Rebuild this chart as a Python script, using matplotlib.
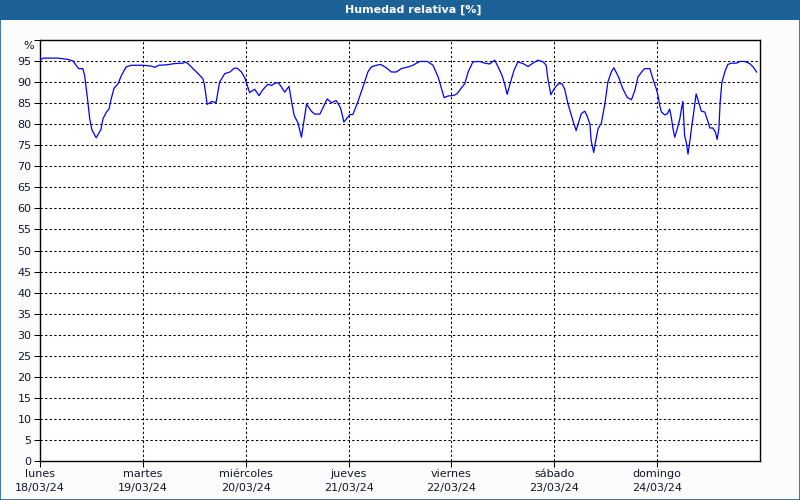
import matplotlib
matplotlib.use("Agg")
import matplotlib.pyplot as plt
from matplotlib.patches import Rectangle

# hours since lunes 18/03/24 00:00 and relative humidity (%)
hours = [0.0, 0.7, 4.2, 6.5, 7.7, 9.0, 10.0, 10.4, 11.0, 11.6, 12.1, 13.1, 14.2, 14.7,
         15.5, 16.1, 16.6, 17.3, 18.2, 19.0, 20.1, 21.3, 24.0, 26.0, 26.8, 27.7, 29.5,
         31.4, 33.4, 33.9, 34.5, 35.7, 36.9, 38.0, 38.4, 39.0, 39.6, 40.1, 40.8, 41.1,
         41.9, 43.1, 44.3, 45.3, 46.0, 47.0, 47.8, 48.9, 50.1, 51.1, 52.0, 53.2, 54.0,
         54.9, 55.7, 57.1, 58.1, 58.8, 59.3, 60.2, 61.0, 61.8, 62.2, 63.3, 64.1, 65.3,
         67.0, 68.0, 69.1, 69.9, 70.2, 70.9, 72.3, 73.0, 74.2, 75.6, 76.5, 77.3, 78.5,
         79.5, 80.8, 82.0, 83.1, 84.3, 85.9, 87.0, 88.6, 90.4, 91.7, 92.9, 93.7, 94.3,
         95.2, 96.4, 97.3, 98.3, 99.1, 99.9, 101.0, 102.6, 103.8, 104.9, 106.1, 106.9,
         107.8, 108.4, 109.0, 109.8, 110.6, 111.5, 112.7, 113.9, 115.0, 116.2, 117.4,
         118.1, 118.5, 119.2, 119.9, 120.9, 121.8, 122.4, 123.2, 124.0, 124.5, 125.1,
         125.7, 126.3, 127.1, 127.6, 128.3, 128.6, 129.2, 129.6, 130.2, 131.0, 131.8,
         132.5, 133.3, 133.9, 135.0, 136.0, 137.0, 138.0, 138.8, 139.5, 140.7, 141.1,
         142.3, 143.0, 143.8, 144.2, 144.6, 145.0, 145.8, 146.4, 146.9, 147.3, 147.7,
         148.1, 148.7, 149.3, 149.6, 150.0, 150.4, 150.8, 151.2, 151.6, 152.1, 152.6,
         153.1, 153.7, 154.3, 155.1, 155.9, 156.3, 157.0, 157.6, 158.0, 158.4, 158.7,
         159.1, 159.9, 160.5, 161.3, 162.5, 163.3, 164.4, 165.6, 166.4, 167.2]
humidity = [95.2, 95.7, 95.7, 95.4, 95.0, 93.2, 93.2, 91.6, 86.8, 81.3, 78.7, 76.8, 78.7, 81.3,
            82.9, 83.6, 86.0, 88.6, 89.6, 91.6, 93.6, 94.0, 94.0, 93.8, 93.5, 94.0, 94.1,
            94.4, 94.5, 94.8, 94.4, 93.2, 92.0, 90.8, 89.2, 84.7, 85.1, 85.4, 85.2, 85.2,
            90.0, 92.0, 92.4, 93.3, 93.3, 92.4, 91.0, 87.5, 88.3, 86.8, 88.2, 89.5, 89.2,
            89.8, 89.8, 87.6, 89.0, 84.8, 82.1, 80.3, 76.9, 82.1, 84.8, 83.1, 82.4, 82.4,
            86.0, 85.1, 85.6, 84.3, 83.6, 80.5, 82.3, 82.3, 85.4, 89.6, 92.4, 93.6, 94.0,
            94.2, 93.4, 92.4, 92.4, 93.2, 93.6, 94.0, 94.9, 94.9, 94.0, 91.2, 88.4, 86.3,
            86.7, 86.8, 87.2, 88.6, 89.6, 92.4, 94.8, 94.9, 94.5, 94.3, 95.2, 93.6,
            91.6, 89.6, 87.1, 90.0, 92.8, 94.8, 94.4, 93.7, 94.5, 95.2, 94.8,
            94.0, 90.8, 87.0, 88.3, 89.6, 89.6, 88.4, 84.8, 82.1, 80.3, 78.5,
            80.5, 82.5, 83.1, 82.1, 80.1, 76.1, 73.3, 75.7, 78.9, 80.3, 84.8,
            90.0, 92.4, 93.4, 91.2, 88.4, 86.4, 85.8, 88.0, 91.2, 92.8, 93.2,
            93.2, 90.8, 88.4, 86.8, 84.4, 82.9, 82.2, 82.5, 83.6, 81.7, 78.9,
            76.9, 78.9, 81.3, 83.3, 85.4, 77.3, 75.7, 72.9, 75.7, 79.7, 83.3,
            87.2, 85.2, 83.1, 82.9, 80.5, 79.1, 79.1, 78.1, 76.4, 78.9, 85.2,
            89.9, 92.8, 94.2, 94.5, 94.5, 94.9, 94.9, 94.4, 93.6, 92.4]

day_names = ["lunes", "martes", "miércoles", "jueves", "viernes", "sábado", "domingo"]
day_dates = ["18/03/24", "19/03/24", "20/03/24", "21/03/24", "22/03/24", "23/03/24", "24/03/24"]
y_ticks = list(range(0, 101, 5))
y_labels = [str(v) for v in y_ticks[:-1]] + [""]

bg = "#FBFCFB"
bar = "#1D6296"
txt = "#15152E"

fig = plt.figure(figsize=(8, 5), dpi=100, facecolor=bg)
ax = fig.add_axes([40 / 800, 1 - 461 / 500, 720 / 800, 421 / 500])
ax.set_facecolor("white")

# title bar and frame
fig.patches.append(Rectangle((0, 1 - 20 / 500), 1, 20 / 500, transform=fig.transFigure,
                             facecolor=bar, edgecolor="none", zorder=0))
fig.patches.append(Rectangle((0.0006, 0.001), 0.9988, 0.998, transform=fig.transFigure,
                             facecolor="none", edgecolor=bar, linewidth=1.2, zorder=1))
fig.text(413 / 800, 1 - 10 / 500, "Humedad relativa [%]", color="white", fontsize=8,
         fontweight="bold", ha="center", va="center")

ax.plot(hours, humidity, color="#0000FF", linewidth=0.9, zorder=3)

ax.set_xlim(0, 168)
ax.set_ylim(0, 100)
ax.set_yticks(y_ticks)
ax.set_yticklabels(y_labels)
ax.set_xticks([24 * i for i in range(7)])
ax.set_xticklabels([f"{n}\n{d}" for n, d in zip(day_names, day_dates)], linespacing=1.45)

# unit label at the top of the y axis
ax.annotate("%", xy=(0, 100), xytext=(-4.3, -4.3), textcoords="offset points",
            ha="right", va="center", fontsize=8, color=txt, annotation_clip=False)

dash = (0, (2.2, 2.2))
for v in y_ticks[1:-1]:
    ax.axhline(v, color="black", linewidth=0.75, linestyle=dash, zorder=1)
for i in range(1, 7):
    ax.axvline(24 * i, color="black", linewidth=0.75, linestyle=dash, zorder=1)

for s in ax.spines.values():
    s.set_color("black")
    s.set_linewidth(1.0)

ax.tick_params(axis="both", length=4, width=0.75, color="black", labelsize=8,
               labelcolor=txt, pad=2)
ax.tick_params(axis="y", which="major", length=4)

fig.savefig("out.png", dpi=100, facecolor=bg)
